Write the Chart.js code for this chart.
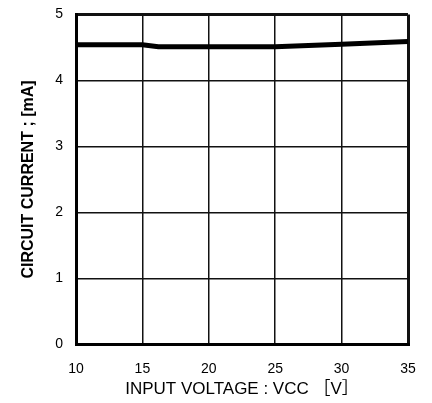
<!DOCTYPE html>
<html>
<head>
<meta charset="utf-8">
<script src="https://cdn.jsdelivr.net/npm/chart.js@4/dist/chart.umd.min.js"></script>
<style>
  html, body { margin: 0; padding: 0; background: #fff; }
  canvas { display: block; }
</style>
</head>
<body>
<canvas id="currentChart" width="432" height="403"></canvas>
<script>
// values
const vccValues = [10, 15, 16.2, 25, 30, 35];
const currentValues = [4.54, 4.54, 4.51, 4.51, 4.55, 4.59];

const xTitle = "INPUT VOLTAGE : VCC ［V］";
const yTitle = "CIRCUIT CURRENT ; [mA]";

const points = vccValues.map((v, i) => ({ x: v, y: currentValues[i] }));

// thick frame on the outer grid lines, thin inside
function frameWidth(ctx) {
  const n = ctx.scale.ticks.length;
  return (ctx.index === 0 || ctx.index === n - 1) ? 3 : 1.5;
}

const tickFont = { family: "'Liberation Sans', Arial, sans-serif", size: 14 };

const ctx = document.getElementById("currentChart").getContext("2d");
new Chart(ctx, {
  type: "line",
  data: {
    datasets: [{
      data: points,
      borderColor: "#000",
      borderWidth: 5,
      pointRadius: 0,
      fill: false,
      tension: 0
    }]
  },
  options: {
    responsive: false,
    animation: false,
    layout: { padding: { left: 0, right: 24, top: 14.5, bottom: 0 } },
    plugins: {
      legend: { display: false },
      tooltip: { enabled: false }
    },
    scales: {
      x: {
        type: "linear",
        min: 10,
        max: 35,
        ticks: { stepSize: 5, padding: 2, color: "#000", font: tickFont },
        // invisible tick marks just push the labels away from the axis
        grid: { color: "#111", lineWidth: frameWidth, tickLength: 14, tickColor: "rgba(0,0,0,0)" },
        border: { display: true, color: "#000", width: 3 },
        title: {
          display: true,
          text: xTitle,
          color: "#000",
          font: { family: "'Liberation Sans', 'Noto Sans CJK JP', sans-serif", size: 17 },
          padding: { top: 0, bottom: 3 }
        },
        afterFit: scale => { scale.height = 58.5; }
      },
      y: {
        min: 0,
        max: 5,
        ticks: { stepSize: 1, padding: 1, color: "#000", font: tickFont },
        grid: { color: "#111", lineWidth: frameWidth, tickLength: 12, tickColor: "rgba(0,0,0,0)" },
        border: { display: true, color: "#000", width: 3 },
        title: {
          display: true,
          text: yTitle,
          color: "#000",
          font: { family: "'Liberation Sans', Arial, sans-serif", size: 16, weight: "bold" },
          padding: { top: 19, bottom: 0 }
        },
        afterFit: scale => { scale.width = 76; }
      }
    }
  }
});
</script>
</body>
</html>
